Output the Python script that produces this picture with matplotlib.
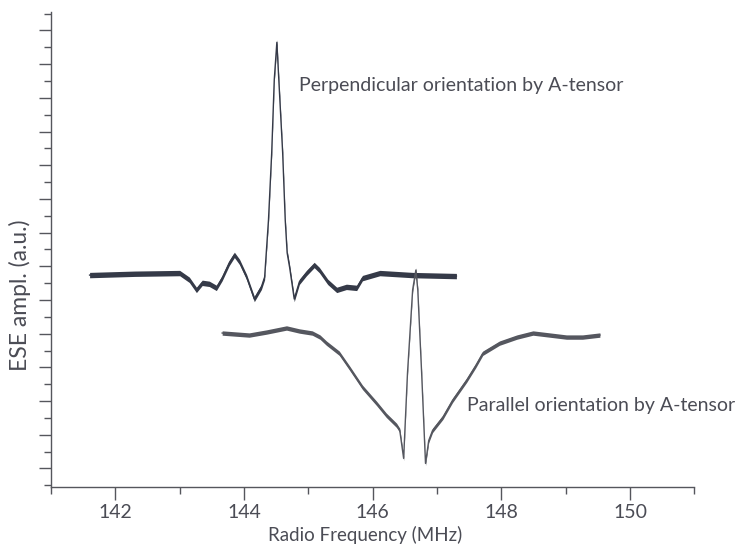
import numpy as np
import matplotlib
matplotlib.use("Agg")
import matplotlib.pyplot as plt
from matplotlib.ticker import MultipleLocator, NullFormatter

# perpendicular orientation trace (MHz, a.u.)
perp_freq = [141.60, 142.30, 143.00, 143.15, 143.26, 143.35, 143.46, 143.57, 143.66, 143.77,
             143.85, 143.93, 144.04, 144.16, 144.27, 144.32, 144.38, 144.43, 144.47,
             144.51, 144.54, 144.60, 144.64, 144.67, 144.71, 144.78, 144.86, 144.97,
             145.09, 145.17, 145.30, 145.44, 145.59, 145.75, 145.84, 146.11, 146.62,
             147.30]
perp_amp = [6.74, 6.78, 6.80, 6.60, 6.30, 6.51, 6.48, 6.36, 6.65, 7.10,
            7.34, 7.13, 6.68, 6.03, 6.39, 6.68, 8.38, 10.38, 12.55,
            13.65, 12.55, 10.38, 8.38, 7.40, 6.95, 6.03, 6.54, 6.80,
            7.04, 6.89, 6.54, 6.30, 6.39, 6.36, 6.65, 6.80, 6.74,
            6.71]

# parallel orientation trace
par_freq = [143.66, 144.08, 144.35, 144.66, 144.86, 145.06, 145.18, 145.28, 145.48, 145.64,
            145.84, 146.06, 146.21, 146.37, 146.42, 146.48, 146.54, 146.62, 146.67,
            146.70, 146.76, 146.82, 146.87, 146.93, 147.09, 147.24, 147.46, 147.60, 147.71,
            147.97, 148.24, 148.49, 148.75, 149.01, 149.26, 149.53]
par_amp = [5.02, 4.96, 5.05, 5.17, 5.08, 5.02, 4.90, 4.72, 4.42, 3.98,
           3.41, 2.93, 2.58, 2.28, 2.13, 1.30, 3.83, 6.30, 6.89,
           6.30, 3.83, 1.15, 1.83, 2.13, 2.52, 3.02, 3.62, 4.05, 4.42,
           4.72, 4.90, 5.02, 4.96, 4.90, 4.90, 4.96]

x_ticks = [142, 144, 146, 148, 150]

plt.rcParams['font.family'] = ['Lato', 'DejaVu Sans']
txt_col = '#4b4c55'
ax_col = '#55565c'

fig = plt.figure(figsize=(7.4, 5.44), dpi=100)
ax = fig.add_axes([0.0689, 0.1048, 0.8696, 0.8732])

for f, a, c, band in [(perp_freq, perp_amp, '#353a48', 0.08),
                      (par_freq, par_amp, '#55575f', 0.065)]:
    f = np.array(f)
    a = np.array(a)
    ax.fill_between(f, a - band, a + band, color=c, lw=0)
    ax.plot(f, a, color=c, lw=1.0)

ax.set_xlim(141, 151)
ax.set_ylim(0.45, 14.55)

ax.set_xticks(x_ticks)
ax.xaxis.set_minor_locator(MultipleLocator(1))
ax.yaxis.set_major_locator(MultipleLocator(1))
ax.yaxis.set_minor_locator(MultipleLocator(0.5))
ax.yaxis.set_major_formatter(NullFormatter())
ax.tick_params(which='major', length=9, width=1.0, color=ax_col,
               labelsize=14, labelcolor=txt_col, pad=3)
ax.tick_params(which='minor', length=5, width=1.0, color=ax_col)

for s in ['top', 'right']:
    ax.spines[s].set_visible(False)
for s in ['left', 'bottom']:
    ax.spines[s].set_color(ax_col)
    ax.spines[s].set_linewidth(1.0)

ax.set_xlabel('Radio Frequency (MHz)', fontsize=13.5, color=txt_col)
ax.set_ylabel('ESE ampl. (a.u.)', fontsize=16.5, color=txt_col)
ax.xaxis.set_label_coords(0.488, -0.083)
ax.yaxis.set_label_coords(-0.031, 0.404)

ax.text(144.86, 12.36, 'Perpendicular orientation by A-tensor', fontsize=14,
        color=txt_col, ha='left', va='center')
ax.text(147.47, 2.88, 'Parallel orientation by A-tensor', fontsize=14,
        color=txt_col, ha='left', va='center')

fig.savefig('out.png', dpi=100)
